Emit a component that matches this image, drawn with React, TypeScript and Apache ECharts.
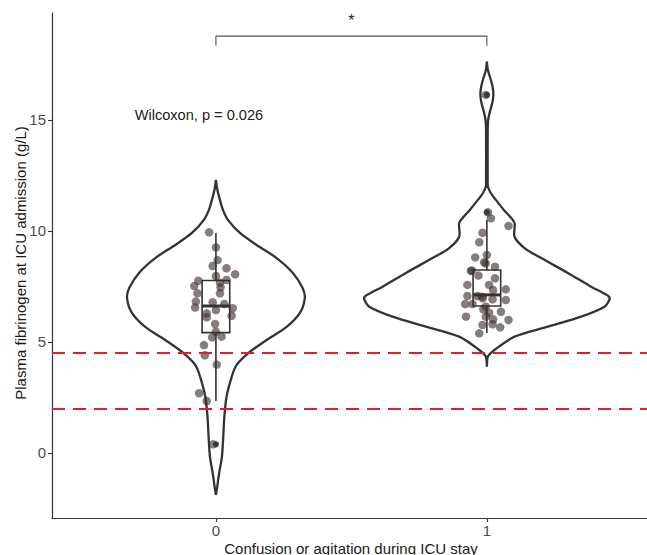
import React, { useEffect, useRef } from "react";
import * as echarts from "echarts";

const categories = ["0", "1"];
const yTicks = [0, 5, 10, 15];
const xTicks = [0, 1];
const refLines = [4.5, 2];

const xTitle = "Confusion or agitation during ICU stay";
const yTitle = "Plasma fibrinogen at ICU admission (g/L)";
const pValueText = "Wilcoxon, p = 0.026";
const sigLabel = "*";

// violin outlines: y value and half width (x units)
const violin0Y = [12.3, 11.85, 11.4, 10.95, 10.5, 9.91, 9.37, 8.78, 8.11, 7.43, 6.98, 6.31, 5.68, 5.09, 4.55, 3.96, 3.42, 2.52, 1.62, 0.72, -0.18, -0.9, -1.67, -1.89];
const violin0W = [0, 0.0055, 0.0148, 0.0258, 0.0443, 0.0886, 0.15, 0.224, 0.284, 0.32, 0.328, 0.31, 0.261, 0.187, 0.125, 0.076, 0.058, 0.039, 0.031, 0.027, 0.022, 0.012, 0.003, 0];
const violin1Y = [17.63, 17.25, 16.88, 16.5, 16.13, 15.75, 15.37, 15.0, 14.55, 12.3, 12.0, 11.7, 11.4, 10.95, 10.65, 10.36, 9.74, 9.23, 8.78, 8.11, 7.49, 7.2, 7.04, 6.9, 6.59, 6.14, 5.69, 5.24, 4.64, 4.34, 3.89];
const violin1W = [0, 0.0037, 0.0129, 0.021, 0.024, 0.0196, 0.0111, 0.0048, 0.003, 0.003, 0.0037, 0.0148, 0.0332, 0.0627, 0.0849, 0.1022, 0.1022, 0.1391, 0.2004, 0.2989, 0.3849, 0.43, 0.451, 0.452, 0.4343, 0.348, 0.2251, 0.1022, 0.0284, 0.0037, 0];

// box stats: [low whisker, q1, median, q3, high whisker]
const box0 = [2.34, 5.42, 6.62, 7.77, 9.91];
const box1 = [5.4, 6.62, 7.12, 8.24, 10.5];

const outliers0 = [0.39];
const outliers1 = [10.84, 16.13];

// jittered observations (x position, value)
const jitter0X = [-0.025, 0.0, 0.006, -0.012, 0.039, 0.071, 0.0, -0.065, 0.015, 0.039, -0.08, 0.017, -0.068, 0.015, -0.074, -0.012, 0.031, -0.077, 0.0, 0.062, -0.034, 0.058, -0.034, -0.003, 0.0, -0.014, 0.021, -0.044, -0.041, 0.003, -0.062, -0.034, -0.01];
const jitter0Y = [9.94, 9.26, 8.69, 8.42, 8.32, 8.05, 7.97, 7.76, 7.67, 7.79, 7.52, 7.46, 7.19, 7.19, 6.82, 6.79, 6.71, 6.55, 6.44, 6.52, 6.29, 6.18, 6.11, 5.81, 5.46, 5.21, 5.24, 4.86, 4.4, 3.98, 2.69, 2.34, 0.39];
const jitter1X = [-0.004, 0.004, 0.015, 0.08, -0.016, -0.028, 0.0, -0.043, -0.01, 0.03, -0.059, -0.055, -0.031, 0.03, -0.072, 0.008, 0.023, 0.07, -0.072, -0.035, -0.018, -0.015, 0.021, 0.07, -0.08, -0.053, -0.013, 0.052, -0.077, -0.004, 0.08, 0.023, -0.016, 0.021, 0.049, -0.028, -0.004, -0.004, 0.008];
const jitter1Y = [16.13, 10.84, 10.57, 10.23, 9.92, 9.49, 8.92, 8.81, 8.59, 8.39, 8.2, 8.22, 7.99, 7.87, 7.57, 7.57, 7.34, 7.37, 7.07, 7.07, 7.04, 6.97, 6.92, 6.89, 6.71, 6.71, 6.47, 6.36, 6.14, 6.14, 5.99, 6.02, 5.77, 5.8, 5.66, 5.39, 8.54, 6.59, 6.32];

const FONT = "Liberation Sans, Arial, Helvetica, sans-serif";
const INK = "#333333";

export default function App() {
  const ref = useRef<HTMLDivElement>(null);

  useEffect(() => {
    if (!ref.current) return;
    const chart = echarts.init(ref.current, undefined, { renderer: "svg" });

    const violins = [
      { ys: violin0Y, ws: violin0W },
      { ys: violin1Y, ws: violin1W },
    ];
    const boxes = [box0, box1];

    const jitterData: number[][] = [];
    jitter0X.forEach((x, i) => jitterData.push([x, jitter0Y[i]]));
    jitter1X.forEach((x, i) => jitterData.push([1 + x, jitter1Y[i]]));
    const outlierData: number[][] = [];
    outliers0.forEach((v) => outlierData.push([0, v]));
    outliers1.forEach((v) => outlierData.push([1, v]));

    const option: any = {
      animation: false,
      textStyle: { fontFamily: FONT },
      grid: { left: 52, right: 0, top: 13, bottom: 37 },
      xAxis: {
        type: "value",
        min: -0.605,
        max: 1.591,
        splitLine: { show: false },
        axisLine: { show: true, onZero: false, lineStyle: { color: INK, width: 1.2 } },
        axisTick: { show: true, customValues: xTicks, length: 4, lineStyle: { color: INK, width: 1.1 } },
        axisLabel: {
          customValues: xTicks,
          formatter: (v: number) => categories[Math.round(v)],
          color: "#4d4d4d",
          fontSize: 15,
          margin: 5,
          fontFamily: FONT,
        },
      },
      yAxis: {
        type: "value",
        min: -2.93,
        max: 19.82,
        splitLine: { show: false },
        axisLine: { show: true, onZero: false, lineStyle: { color: INK, width: 1.2 } },
        axisTick: { show: true, customValues: yTicks, length: 4, lineStyle: { color: INK, width: 1.1 } },
        axisLabel: {
          customValues: yTicks,
          color: "#4d4d4d",
          fontSize: 15,
          margin: 6,
          fontFamily: FONT,
        },
      },
      series: [
        {
          type: "custom",
          name: "violin",
          z: 1,
          data: [[0], [1]],
          renderItem: (params: any, api: any) => {
            const g = params.dataIndex;
            const v = violins[g];
            const pts: number[][] = [];
            for (let i = 0; i < v.ys.length; i++) pts.push(api.coord([g + v.ws[i], v.ys[i]]));
            for (let i = v.ys.length - 1; i >= 0; i--) pts.push(api.coord([g - v.ws[i], v.ys[i]]));
            return {
              type: "polygon",
              shape: { points: pts, smooth: 0.3 },
              style: { fill: "#ffffff", stroke: INK, lineWidth: 2.3 },
            };
          },
        },
        {
          type: "custom",
          name: "box",
          z: 2,
          data: [[0, ...box0], [1, ...box1]],
          renderItem: (params: any, api: any) => {
            const g = params.dataIndex;
            const b = boxes[g];
            const hw = 0.051;
            const lowP = api.coord([g, b[0]]);
            const q1P = api.coord([g, b[1]]);
            const medL = api.coord([g - hw, b[2]]);
            const medR = api.coord([g + hw, b[2]]);
            const q3P = api.coord([g, b[3]]);
            const highP = api.coord([g, b[4]]);
            const tl = api.coord([g - hw, b[3]]);
            const br = api.coord([g + hw, b[1]]);
            return {
              type: "group",
              children: [
                { type: "line", shape: { x1: lowP[0], y1: lowP[1], x2: q1P[0], y2: q1P[1] }, style: { stroke: INK, lineWidth: 1.6 } },
                { type: "line", shape: { x1: q3P[0], y1: q3P[1], x2: highP[0], y2: highP[1] }, style: { stroke: INK, lineWidth: 1.6 } },
                { type: "rect", shape: { x: tl[0], y: tl[1], width: br[0] - tl[0], height: br[1] - tl[1] }, style: { fill: "#ffffff", stroke: INK, lineWidth: 1.6 } },
                { type: "line", shape: { x1: medL[0], y1: medL[1], x2: medR[0], y2: medR[1] }, style: { stroke: INK, lineWidth: 3 } },
              ],
            };
          },
        },
        {
          type: "scatter",
          name: "outliers",
          z: 3,
          symbol: "circle",
          symbolSize: 6,
          itemStyle: { color: "#111111" },
          data: outlierData,
        },
        {
          type: "scatter",
          name: "jitter",
          z: 4,
          symbol: "circle",
          symbolSize: 8.5,
          itemStyle: { color: "rgba(62,46,46,0.78)" },
          data: jitterData,
          markLine: {
            silent: true,
            symbol: "none",
            label: { show: false },
            lineStyle: { color: "#E41E26", width: 2.2, type: [13, 8] },
            data: refLines.map((y) => ({ yAxis: y })),
          },
        },
        {
          type: "custom",
          name: "bracket",
          z: 5,
          data: [[0, 1, 18.78, 18.35]],
          renderItem: (params: any, api: any) => {
            const x0 = api.value(0);
            const x1 = api.value(1);
            const yTop = api.value(2);
            const yBot = api.value(3);
            const p0 = api.coord([x0, yBot]);
            const p1 = api.coord([x0, yTop]);
            const p2 = api.coord([x1, yTop]);
            const p3 = api.coord([x1, yBot]);
            const star = api.coord([(x0 + x1) / 2, 19.5]);
            const pv = api.coord([-0.3, 15.22]);
            return {
              type: "group",
              children: [
                { type: "polyline", shape: { points: [p0, p1, p2, p3] }, style: { stroke: "#555555", lineWidth: 1.1, fill: "none" } },
                { type: "text", x: star[0], y: star[1], style: { text: sigLabel, fill: "#222222", fontSize: 16, fontFamily: FONT, align: "center", verticalAlign: "middle" } },
                { type: "text", x: pv[0], y: pv[1], style: { text: pValueText, fill: "#222222", fontSize: 14.6, fontFamily: FONT, align: "left", verticalAlign: "middle" } },
              ],
            };
          },
        },
      ],
      graphic: [
        {
          type: "text",
          x: 20,
          y: 263,
          rotation: Math.PI / 2,
          style: { text: yTitle, fill: "#1a1a1a", fontSize: 15, fontFamily: FONT, align: "center", verticalAlign: "middle" },
        },
        {
          type: "text",
          x: 351,
          y: 548,
          style: { text: xTitle, fill: "#1a1a1a", fontSize: 15, fontFamily: FONT, align: "center", verticalAlign: "middle" },
        },
      ],
    };

    chart.setOption(option);
    return () => chart.dispose();
  }, []);

  return (
    <div
      ref={ref}
      style={{ position: "fixed", left: 0, top: 0, width: 647, height: 555, background: "#ffffff" }}
    />
  );
}
